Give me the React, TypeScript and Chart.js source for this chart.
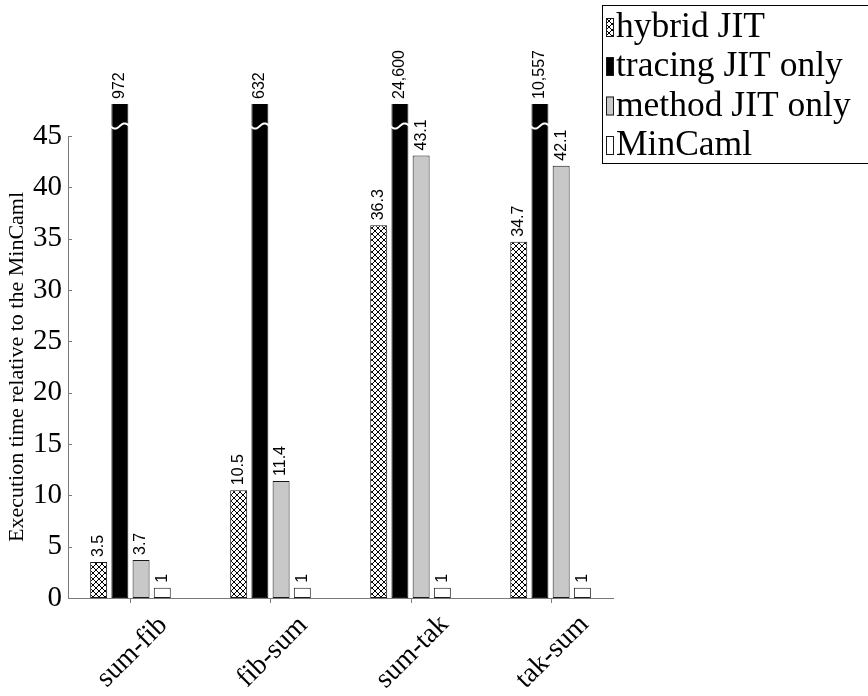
import React, { useEffect, useRef } from "react";
import { Chart, registerables } from "chart.js";

Chart.register(...registerables);

const categories = ["sum-fib", "fib-sum", "sum-tak", "tak-sum"];
const seriesNames = ["hybrid JIT", "tracing JIT only", "method JIT only", "MinCaml"];
const hybridJIT = [3.5, 10.5, 36.3, 34.7];
const tracingJITOnly = [972, 632, 24600, 10557];
const methodJITOnly = [3.7, 11.4, 43.1, 42.1];
const minCaml = [1, 1, 1, 1];
const yTickValues = [0, 5, 10, 15, 20, 25, 30, 35, 40, 45];
const yTitle = "Execution time relative to the MinCaml";

const SERIF = '"Liberation Serif", "Times New Roman", serif';
const SANS = '"Liberation Sans", Arial, sans-serif';
const AXIS = "#7a7a7a";
const EDGE = "#1a1a1a";
const GRAY = "#c8c8c8";
const CLIP_TOP = 32;

function makeHatch(): CanvasPattern | string {
  const c = document.createElement("canvas");
  c.width = 6;
  c.height = 6;
  const g = c.getContext("2d");
  if (!g) return "#888";
  g.fillStyle = "#fff";
  g.fillRect(0, 0, 6, 6);
  g.strokeStyle = "#000";
  g.lineWidth = 1;
  g.beginPath();
  g.moveTo(-1, -1);
  g.lineTo(7, 7);
  g.moveTo(-1, 7);
  g.lineTo(7, -1);
  g.stroke();
  const p = g.createPattern(c, "repeat");
  return p || "#888";
}

function fmt(v: number): string {
  return v.toLocaleString("en-US");
}

export default function App() {
  const ref = useRef<HTMLCanvasElement | null>(null);

  useEffect(() => {
    const canvas = ref.current;
    if (!canvas) return;
    const hatch = makeHatch();
    const fills: any[] = [hatch, "#000000", GRAY, "#ffffff"];
    const values = [hybridJIT, tracingJITOnly, methodJITOnly, minCaml];

    const overlay = {
      id: "overlay",
      afterDatasetsDraw(chart: any) {
        const ctx = chart.ctx;
        const area = chart.chartArea;
        const clipTop = area.top - CLIP_TOP;
        chart.data.datasets.forEach((ds: any, di: number) => {
          const meta = chart.getDatasetMeta(di);
          meta.data.forEach((el: any, i: number) => {
            const v = ds.data[i].y;
            const top = Math.max(el.y, clipTop);
            if (el.y < clipTop) {
              const l = el.x - el.width / 2 - 1;
              const w = el.width + 2;
              const yc = area.top - 10;
              ctx.save();
              ctx.beginPath();
              for (let k = 0; k <= 24; k++) {
                const t = k / 24;
                const x = l + w * t;
                const y = yc + 2.6 * Math.sin(2 * Math.PI * t);
                if (k === 0) ctx.moveTo(x, y);
                else ctx.lineTo(x, y);
              }
              ctx.strokeStyle = "#ffffff";
              ctx.lineWidth = 2;
              ctx.stroke();
              ctx.restore();
            }
            ctx.save();
            ctx.translate(el.x, top - 5);
            ctx.rotate(-Math.PI / 2);
            ctx.font = "16px " + SANS;
            ctx.fillStyle = "#000";
            ctx.textAlign = "left";
            ctx.textBaseline = "middle";
            ctx.fillText(fmt(v), 0, 0);
            ctx.restore();
          });
        });
      },
      afterDraw(chart: any) {
        const ctx = chart.ctx;
        const area = chart.chartArea;
        const xs = chart.scales.x;
        const ys = chart.scales.y;
        ctx.save();
        ctx.strokeStyle = AXIS;
        ctx.lineWidth = 1;
        ctx.beginPath();
        yTickValues.forEach((v) => {
          const y = Math.round(ys.getPixelForValue(v)) + 0.5;
          ctx.moveTo(area.left, y);
          ctx.lineTo(area.left + 4, y);
        });
        categories.forEach((_, i) => {
          const x = Math.round(xs.getPixelForValue(i)) + 0.5;
          ctx.moveTo(x, area.bottom);
          ctx.lineTo(x, area.bottom + 5);
        });
        ctx.stroke();
        ctx.restore();

        // x labels
        categories.forEach((c, i) => {
          const x = xs.getPixelForValue(i) + 2;
          ctx.save();
          ctx.translate(x, area.bottom + 54);
          ctx.rotate(-Math.PI / 4);
          ctx.font = "28px " + SERIF;
          ctx.fillStyle = "#000";
          ctx.textAlign = "center";
          ctx.textBaseline = "middle";
          ctx.fillText(c, 0, 0);
          ctx.restore();
        });

        // legend
        ctx.save();
        const lx = 602;
        const ly = 5;
        ctx.fillStyle = "#fff";
        ctx.fillRect(lx, ly, 300, 158);
        ctx.strokeStyle = "#000";
        ctx.lineWidth = 1;
        ctx.strokeRect(lx + 0.5, ly + 0.5, 300, 158);
        const baselines = [37, 76, 115.5, 155];
        seriesNames.forEach((name, i) => {
          const b = baselines[i];
          ctx.fillStyle = fills[i];
          ctx.fillRect(606, b - 19, 8, 19);
          ctx.strokeStyle = EDGE;
          ctx.strokeRect(606.5, b - 18.5, 7, 18);
          ctx.fillStyle = "#000";
          ctx.font = "35.5px " + SERIF;
          ctx.textAlign = "left";
          ctx.textBaseline = "alphabetic";
          ctx.fillText(name, 616, b);
        });
        ctx.restore();
      },
    };

    const chart = new Chart(canvas, {
      type: "bar",
      data: {
        datasets: seriesNames.map((name, di) => ({
          label: name,
          data: values[di].map((v, i) => ({ x: i, y: v })),
          backgroundColor: fills[di],
          borderColor: EDGE,
          borderWidth: 1,
          borderSkipped: false,
          categoryPercentage: 0.606,
          barPercentage: 0.8,
          clip: { left: 0, top: CLIP_TOP, right: 0, bottom: 0 },
        })),
      },
      options: {
        responsive: false,
        animation: false,
        devicePixelRatio: 1,
        layout: { padding: { left: 0, top: 136, right: 255, bottom: 0 } },
        plugins: {
          legend: { display: false },
          tooltip: { enabled: false },
        },
        scales: {
          x: {
            type: "linear",
            offset: false,
            min: -0.446,
            max: 3.446,
            afterBuildTicks: (s: any) => {
              s.ticks = categories.map((_, i) => ({ value: i }));
            },
            afterFit: (s: any) => {
              s.height = 98;
            },
            ticks: { display: false },
            grid: { display: false, offset: false },
            border: { display: true, color: AXIS, width: 1 },
          },
          y: {
            type: "linear",
            min: 0,
            max: 45,
            afterBuildTicks: (s: any) => {
              s.ticks = yTickValues.map((v) => ({ value: v }));
            },
            afterFit: (s: any) => {
              s.width = 68;
            },
            ticks: {
              padding: 6,
              color: "#000",
              font: { family: SERIF, size: 29 },
            },
            grid: { display: false, drawTicks: false },
            border: { display: true, color: AXIS, width: 1 },
            title: {
              display: true,
              text: yTitle,
              color: "#000",
              font: { family: SERIF, size: 22 },
              padding: { top: 4, bottom: 0 },
            },
          },
        },
      } as any,
      plugins: [overlay],
    });
    return () => chart.destroy();
  }, []);

  return (
    <div style={{ position: "fixed", left: 0, top: 0, width: 868, height: 696, background: "#fff" }}>
      <canvas ref={ref} width={868} height={696} style={{ display: "block" }} />
    </div>
  );
}
